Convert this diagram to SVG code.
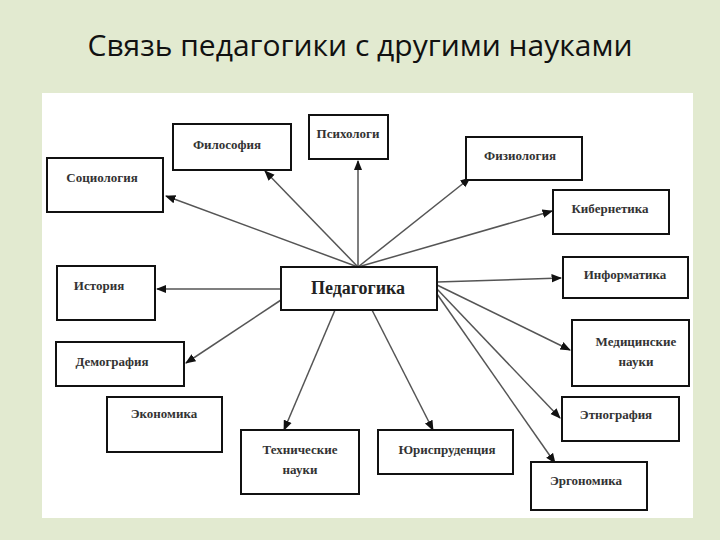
<svg xmlns="http://www.w3.org/2000/svg" width="720" height="540" viewBox="0 0 720 540">
<style>
.b{fill:#fff;stroke:#111;stroke-width:2}
.t{font-family:"Liberation Serif",serif;font-size:13px;font-weight:bold;fill:#333}
.c line{stroke:#555;stroke-width:1.5;marker-end:url(#a)}
</style>
<defs><marker id="a" viewBox="0 0 10 10" refX="9" refY="5" markerWidth="7" markerHeight="7" orient="auto"><path d="M0,1L10,5L0,9z" fill="#111"/></marker></defs>
<rect width="720" height="540" fill="#e2ead0"/>
<text x="360" y="56" text-anchor="middle" font-family="Open Sans,Liberation Sans,sans-serif" font-size="30" fill="#111">Связь педагогики с другими науками</text>
<rect x="42" y="93" width="651" height="425" fill="#fff"/>
<g class="c">
<line x1="358" y1="267" x2="166" y2="196"/>
<line x1="358" y1="267" x2="265" y2="171"/>
<line x1="358" y1="267" x2="358" y2="161"/>
<line x1="358" y1="267" x2="470" y2="178"/>
<line x1="358" y1="267" x2="552" y2="211"/>
<line x1="281" y1="289" x2="157" y2="289"/>
<line x1="281" y1="300" x2="186" y2="363"/>
<line x1="335" y1="310" x2="284" y2="430"/>
<line x1="372" y1="310" x2="433" y2="430"/>
<line x1="437" y1="282" x2="561" y2="278"/>
<line x1="437" y1="285" x2="570" y2="350"/>
<line x1="437" y1="289" x2="560" y2="418"/>
<line x1="437" y1="294" x2="555" y2="463"/>
</g>
<g id="filosofia"><rect class="b" x="173" y="124" width="118" height="46"/><text class="t" x="227" y="149" text-anchor="middle">Философия</text></g>
<g id="psihologi"><rect class="b" x="309" y="115" width="79" height="44"/><text class="t" x="348" y="138" text-anchor="middle">Психологи</text></g>
<g id="fiziologia"><rect class="b" x="466" y="137" width="116" height="43"/><text class="t" x="520" y="160" text-anchor="middle">Физиология</text></g>
<g id="sociologia"><rect class="b" x="47" y="158" width="116" height="54"/><text class="t" x="102" y="182" text-anchor="middle">Социология</text></g>
<g id="kibernetika"><rect class="b" x="553" y="190" width="116" height="44"/><text class="t" x="610" y="213" text-anchor="middle">Кибернетика</text></g>
<g id="istoria"><rect class="b" x="57" y="266" width="98" height="54"/><text class="t" x="99" y="290" text-anchor="middle">История</text></g>
<g id="pedagogika"><rect class="b" x="281" y="267" width="156" height="43"/><text x="358" y="294" text-anchor="middle" font-family="Liberation Serif,serif" font-size="18" font-weight="bold" fill="#222">Педагогика</text></g>
<g id="informatika"><rect class="b" x="563" y="257" width="125" height="41"/><text class="t" x="625" y="279" text-anchor="middle">Информатика</text></g>
<g id="medicina"><rect class="b" x="572" y="320" width="117" height="66"/><text class="t" x="636" y="346" text-anchor="middle">Медицинские</text><text class="t" x="636" y="366" text-anchor="middle">науки</text></g>
<g id="demografia"><rect class="b" x="56" y="342" width="128" height="44"/><text class="t" x="112" y="366" text-anchor="middle">Демография</text></g>
<g id="ekonomika"><rect class="b" x="107" y="397" width="115" height="55"/><text class="t" x="164" y="418" text-anchor="middle">Экономика</text></g>
<g id="etnografia"><rect class="b" x="562" y="397" width="117" height="44"/><text class="t" x="616" y="419" text-anchor="middle">Этнография</text></g>
<g id="tehnicheskie"><rect class="b" x="241" y="430" width="118" height="64"/><text class="t" x="300" y="454" text-anchor="middle">Технические</text><text class="t" x="300" y="474" text-anchor="middle">науки</text></g>
<g id="jurisprudencia"><rect class="b" x="378" y="430" width="135" height="44"/><text class="t" x="447" y="454" text-anchor="middle">Юриспруденция</text></g>
<g id="ergonomika"><rect class="b" x="531" y="462" width="116" height="48"/><text class="t" x="586" y="485" text-anchor="middle">Эргономика</text></g>
</svg>
